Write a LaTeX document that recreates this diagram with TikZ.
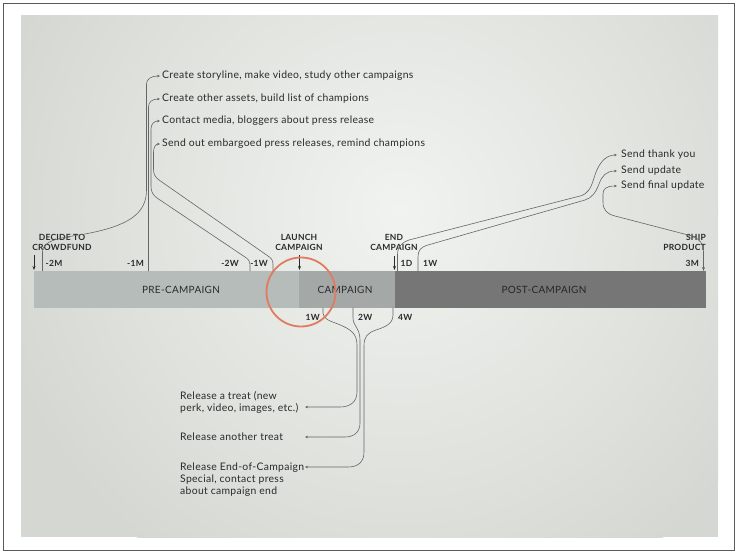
\documentclass[tikz,border=0pt]{standalone}
\usepackage{fontspec}
\setmainfont{Lato}
\newfontfamily\labelfont[LetterSpace=3]{Lato}
\usetikzlibrary{arrows.meta}
\definecolor{ink}{HTML}{2A2A2A}
\definecolor{wire}{HTML}{666666}
\definecolor{frame}{HTML}{5A5A5A}
\definecolor{paperedge}{HTML}{D5D8D2}
\definecolor{papermid}{HTML}{F1F3F0}
\definecolor{prebar}{HTML}{B6BCBA}
\definecolor{campbar}{HTML}{A4A9A7}
\definecolor{postbar}{HTML}{767676}
\definecolor{ring}{HTML}{E27A60}
\begin{document}
\begin{tikzpicture}[x=1pt,y=-1pt,
  conn/.style={draw=wire, line width=0.6pt, -{Stealth[length=3pt,width=2.6pt]}},
  both/.style={draw=wire, line width=0.6pt, {Stealth[length=3pt,width=2.6pt]}-{Stealth[length=4pt,width=3pt]}},
  drop/.style={draw=ink, line width=0.7pt, -{Stealth[length=4pt,width=3pt]}},
  task/.style={inner sep=0pt, anchor=west, text=ink, font=\labelfont\fontsize{10.4}{12}\selectfont, align=left},
  event/.style={inner sep=0pt, text=ink, font=\labelfont\bfseries\fontsize{8.5}{10}\selectfont, align=center},
  tick/.style={inner sep=0pt, text=ink, font=\labelfont\bfseries\fontsize{8.5}{10}\selectfont},
  phase/.style={inner sep=0pt, text=ink, font=\labelfont\fontsize{10}{12}\selectfont}]
\useasboundingbox (0,0) rectangle (737,552);
% page and frame
\fill[white] (0,0) rectangle (737,552);
\draw[frame, line width=1pt] (3.5,3.5) rectangle (734,550);
% paper with a soft light centre
\begin{scope}
  \clip (21,15) rectangle (718,537);
  \fill[paperedge] (21,15) rectangle (718,537);
  \shade[inner color=papermid, outer color=paperedge] (400,210) circle (420);
\end{scope}

% timeline bar
\fill[prebar] (34,271) rectangle (299,307.5);
\fill[campbar] (299,271) rectangle (395,307.5);
\fill[postbar] (395,271) rectangle (706,307.5);
\node[phase] (pre) at (181,290) {PRE-CAMPAIGN};
\node[phase] (camp) at (345,290) {CAMPAIGN};
\node[phase, text=black!85] (post) at (544,290) {POST-CAMPAIGN};

% tick points on the bar
\coordinate (m2M) at (42.5,271);
\coordinate (m1M) at (148.5,271);
\coordinate (m2W) at (250,271);
\coordinate (m1W) at (273,271);
\coordinate (p1D) at (397.5,271);
\coordinate (p1W) at (418,271);
\coordinate (p3M) at (703.5,271);
\coordinate (c1W) at (323,307.5);
\coordinate (c2W) at (353,307.5);
\coordinate (c4W) at (393,307.5);

% event labels
\node[event] (decide) at (62,242) {DECIDE TO\\CROWDFUND};
\node[event] (launch) at (299,242) {LAUNCH\\CAMPAIGN};
\node[event] (endc) at (394,242) {END\\CAMPAIGN};
\node[event, align=right, anchor=east] (ship) at (706,242) {SHIP\\PRODUCT};

% event arrows
\coordinate (decA) at (34,255);
\coordinate (decB) at (34,270);
\coordinate (lauA) at (299.5,255);
\coordinate (lauB) at (299.5,270);
\coordinate (endA) at (394.5,256);
\coordinate (endB) at (394.5,270);
\draw[drop] (decA) -- (decB);
\draw[drop] (lauA) -- (lauB);
\draw[drop] (endA) -- (endB);

% tick labels
\node[tick, anchor=west] (l2M) at (45.5,263) {-2M};
\node[tick, anchor=east] (l1M) at (144,263) {-1M};
\node[tick, anchor=east] (l2W) at (239,263) {-2W};
\node[tick, anchor=east] (l1W) at (268,263) {-1W};
\node[tick, anchor=west] (l1D) at (400.5,263) {1D};
\node[tick, anchor=west] (l1Wa) at (423,263) {1W};
\node[tick, anchor=east] (l3M) at (699,263) {3M};
\node[tick, anchor=east] (b1W) at (320,317) {1W};
\node[tick, anchor=west] (b2W) at (358,317) {2W};
\node[tick, anchor=west] (b4W) at (398,317) {4W};

% tasks before the campaign
\node[task] (story) at (162,76) {Create storyline, make video, study other campaigns};
\node[task] (assets) at (162,99) {Create other assets, build list of champions};
\node[task] (media) at (162,121) {Contact media, bloggers about press release};
\node[task] (embargo) at (162,144) {Send out embargoed press releases, remind champions};

% tasks after the campaign
\node[task] (thanks) at (621,155) {Send thank you};
\node[task] (update) at (621,171) {Send update};
\node[task] (final) at (621,186) {Send final update};

% tasks during the campaign
\node[task] (treat) at (180,402) {Release a treat (new\\perk, video, images, etc.)};
\node[task] (treat2) at (180,437) {Release another treat};
\node[task] (special) at (180,480) {Release End-of-Campaign\\Special, contact press\\about campaign end};
\coordinate (treatIn) at (305,407);
\coordinate (treat2In) at (305,437);
\coordinate (specialIn) at (305,467);

% connectors: pre-campaign
\draw[conn] (m2M) -- (42.5,252) .. controls (42.5,240) and (60,238) .. (85,234)
  .. controls (128,226) and (146.5,214) .. (146.5,190) -- (146.5,84)
  .. controls (146.5,79) and (151,76) .. ([xshift=-2pt]story.west);
\draw[conn] (m1M) -- (148.5,107) .. controls (148.5,102) and (152,99) .. ([xshift=-2pt]assets.west);
\draw[conn] (m2W) -- (250,265) .. controls (250,261) and (248,259) .. (245,257)
  -- (157,198) .. controls (153,195) and (151,192) .. (151,186) -- (151,129)
  .. controls (151,124) and (154,121) .. ([xshift=-2pt]media.west);
\draw[conn] (m1W) -- (273,264) .. controls (273,260) and (271,258) .. (268,256)
  -- (159,180) .. controls (155,177) and (153.5,174) .. (153.5,169) -- (153.5,152)
  .. controls (153.5,147) and (156,144) .. ([xshift=-2pt]embargo.west);

% connectors: post-campaign
\draw[conn] (p1D) -- (397.5,255) .. controls (397.5,247) and (401,243) .. (409,240)
  -- (580,196) .. controls (588,194) and (591,188) .. (594,178)
  .. controls (598,164) and (605,155) .. ([xshift=-4pt]thanks.west);
\draw[conn] (p1W) -- (418,257) .. controls (418,250) and (421,247) .. (428,245)
  -- (585,200) .. controls (592,198) and (596,192) .. (599,184)
  .. controls (602,176) and (606,171) .. ([xshift=-4pt]update.west);
\draw[both] ([xshift=-4pt]final.west) .. controls (606,186) and (603,189) .. (603,194)
  -- (603,202) .. controls (603,210) and (607,214) .. (615,216)
  -- (692,236) .. controls (700,239) and (703.5,244) .. (703.5,252) -- (p3M);

% connectors: during the campaign
\draw[conn] (c1W) -- (323,313) .. controls (323,319) and (330,321) .. (338,324)
  .. controls (350,329) and (357,333) .. (357,345) -- (357,392)
  .. controls (357,402) and (350,407) .. (340,407) -- (treatIn);
\draw[conn] (c2W) -- (353,318) .. controls (353,326) and (360,328) .. (360,340)
  -- (360,423) .. controls (360,432) and (354,437) .. (345,437) -- (treat2In);
\draw[conn] (c4W) -- (393,315) .. controls (393,324) and (385,327) .. (376,330)
  .. controls (367,333) and (364,337) .. (364,346) -- (364,452)
  .. controls (364,462) and (358,467) .. (348,467) -- (specialIn);

% highlight ring at launch
\draw[ring, line width=1.8pt] (301,292) circle (34.5);
\end{tikzpicture}
\end{document}
